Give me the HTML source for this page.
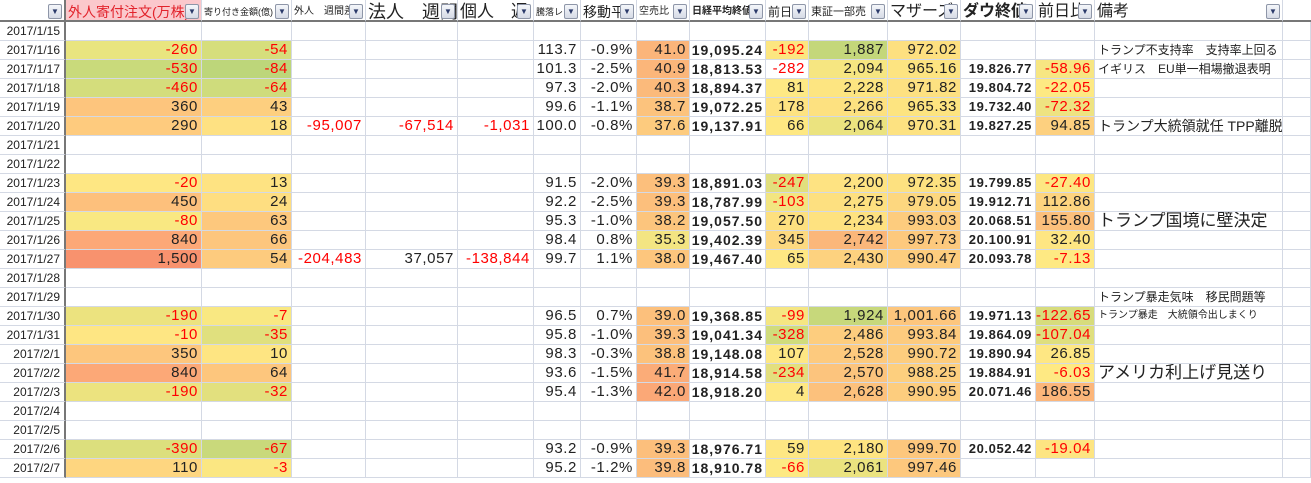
<!DOCTYPE html>
<html><head><meta charset="utf-8"><style>
body{margin:0;width:1311px;height:483px;overflow:hidden;background:#fff;font-family:"Liberation Sans","Noto Sans CJK JP",sans-serif}
.g{display:grid;grid-template-columns:66px 136px 90px 74px 92px 76px 47px 56px 53px 76px 43px 79px 73px 75px 59px 188px 28px;grid-template-rows:22px repeat(24,19px);position:absolute;left:0;top:0}
.g>div{box-sizing:border-box;border-right:1px solid #d4d9e4;border-bottom:1px solid #d4d9e4;font-size:15px;line-height:18px;text-align:right;padding-right:3px;white-space:nowrap;overflow:hidden;color:#222;letter-spacing:0.6px}
.g>.d{font-size:12px;text-align:right;padding-right:4px;border-right:2px solid #777;color:#222;letter-spacing:0}
.g>.h{font-size:13px;text-align:left;padding-left:2px;line-height:22px;position:relative;border-bottom:2px solid #777;background:#fff;padding-top:1px;letter-spacing:0}
.h b{position:absolute;right:2px;top:4px;width:14px;height:15px;box-sizing:border-box;border:1px solid #8e96a8;border-radius:2px;background:linear-gradient(#f4f6fa,#d6dbe6);font-size:8px;line-height:13px;text-align:center;color:#2b3a6a;font-weight:normal}
.r{color:#f00!important}
.g>.k{font-weight:bold;font-size:14px;letter-spacing:1px;padding-right:2px}
.g>.w{font-weight:bold;font-size:13px;letter-spacing:0.6px}
.g>.t{text-align:left;padding-left:3px;font-size:12px;letter-spacing:0}
.g>.L{text-align:left;padding-left:3px;font-size:17px;letter-spacing:0}
</style></head><body>
<div style="position:absolute;left:0;top:0;width:1311px;height:3px;background:#eee"></div>
<div class="g">
<div class="h d" style="border-bottom:2px solid #777"><b style="top:4px">▼</b></div>
<div class="h" style="background:#fbc8cc;color:#e2222b;font-size:14px">外人寄付注文(万株)<b>▼</b></div>
<div class="h" style="font-size:9px">寄り付き金額(億)<b>▼</b></div>
<div class="h" style="font-size:10px">外人　週間差<b>▼</b></div>
<div class="h" style="font-size:18px">法人　週間<b>▼</b></div>
<div class="h" style="font-size:17px">個人　週<b>▼</b></div>
<div class="h" style="font-size:9px">騰落レシ<b>▼</b></div>
<div class="h" style="font-size:14px">移動平<b>▼</b></div>
<div class="h" style="font-size:10px">空売比<b>▼</b></div>
<div class="h" style="font-size:10px;font-weight:bold">日経平均終値<b>▼</b></div>
<div class="h" style="font-size:12px">前日<b>▼</b></div>
<div class="h" style="font-size:11px">東証一部売<b>▼</b></div>
<div class="h" style="font-size:16px">マザーズ<b>▼</b></div>
<div class="h" style="font-size:16px;font-weight:bold">ダウ終値<b>▼</b></div>
<div class="h" style="font-size:16px">前日比<b>▼</b></div>
<div class="h" style="font-size:16px">備考<b>▼</b></div>
<div class="h" style="border-right:none"></div>

<div class="d">2017/1/15</div><div></div><div></div><div></div><div></div><div></div><div></div><div></div><div></div><div></div><div></div><div></div><div></div><div></div><div></div><div></div><div></div>

<div class="d">2017/1/16</div><div class="r" style="background:#e9e57f">-260</div><div class="r" style="background:#d6de7c">-54</div><div></div><div></div><div></div><div>113.7</div><div>-0.9%</div><div style="background:#fbb57a">41.0</div><div class="k">19,095.24</div><div class="r" style="background:#fce680">-192</div><div style="background:#c4d77a">1,887</div><div style="background:#fde080">972.02</div><div></div><div></div><div class="t">トランプ不支持率　支持率上回る</div><div></div>

<div class="d">2017/1/17</div><div class="r" style="background:#c9da7b">-530</div><div class="r" style="background:#bdd67a">-84</div><div></div><div></div><div></div><div>101.3</div><div>-2.5%</div><div style="background:#fbb67a">40.9</div><div class="k">18,813.53</div><div class="r">-282</div><div style="background:#f6e681">2,094</div><div style="background:#fde481">965.16</div><div class="w">19.826.77</div><div class="r" style="background:#f7e682">-58.96</div><div class="t">イギリス　EU単一相場撤退表明</div><div></div>

<div class="d">2017/1/18</div><div class="r" style="background:#d4dd7c">-460</div><div class="r" style="background:#cfdc7c">-64</div><div></div><div></div><div></div><div>97.3</div><div>-2.0%</div><div style="background:#fbba7b">40.3</div><div class="k">18,894.37</div><div style="background:#fee984">81</div><div style="background:#fde581">2,228</div><div style="background:#fde181">971.82</div><div class="w">19.804.72</div><div class="r" style="background:#fde983">-22.05</div><div></div><div></div>

<div class="d">2017/1/19</div><div style="background:#fdc57d">360</div><div style="background:#fdcf7f">43</div><div></div><div></div><div></div><div>99.6</div><div>-1.1%</div><div style="background:#fcc37d">38.7</div><div class="k">19,072.25</div><div style="background:#fee382">178</div><div style="background:#fde180">2,266</div><div style="background:#fde480">965.33</div><div class="w">19.732.40</div><div class="r" style="background:#eee381">-72.32</div><div></div><div></div>

<div class="d">2017/1/20</div><div style="background:#fecb7e">290</div><div style="background:#fee182">18</div><div class="r">-95,007</div><div class="r">-67,514</div><div class="r">-1,031</div><div>100.0</div><div>-0.8%</div><div style="background:#fdcb7e">37.6</div><div class="k">19,137.91</div><div style="background:#fee882">66</div><div style="background:#ebe37f">2,064</div><div style="background:#fde281">970.31</div><div class="w">19.827.25</div><div style="background:#fdd07f">94.85</div><div class="L" style="font-size:14px">トランプ大統領就任 TPP離脱</div><div></div>

<div class="d">2017/1/21</div><div></div><div></div><div></div><div></div><div></div><div></div><div></div><div></div><div></div><div></div><div></div><div></div><div></div><div></div><div></div><div></div>
<div class="d">2017/1/22</div><div></div><div></div><div></div><div></div><div></div><div></div><div></div><div></div><div></div><div></div><div></div><div></div><div></div><div></div><div></div><div></div>

<div class="d">2017/1/23</div><div class="r" style="background:#fee783">-20</div><div style="background:#fee382">13</div><div></div><div></div><div></div><div>91.5</div><div>-2.0%</div><div style="background:#fcbf7c">39.3</div><div class="k">18,891.03</div><div class="r" style="background:#e1df7d">-247</div><div style="background:#fee382">2,200</div><div style="background:#fde180">972.35</div><div class="w">19.799.85</div><div class="r" style="background:#fde782">-27.40</div><div></div><div></div>

<div class="d">2017/1/24</div><div style="background:#fdc07c">450</div><div style="background:#fede81">24</div><div></div><div></div><div></div><div>92.2</div><div>-2.5%</div><div style="background:#fcbf7c">39.3</div><div class="k">18,787.99</div><div class="r" style="background:#f2e581">-103</div><div style="background:#fde080">2,275</div><div style="background:#fdd77f">979.05</div><div class="w">19.912.71</div><div style="background:#fdd47f">112.86</div><div></div><div></div>

<div class="d">2017/1/25</div><div class="r" style="background:#f9e882">-80</div><div style="background:#fdc87d">63</div><div></div><div></div><div></div><div>95.3</div><div>-1.0%</div><div style="background:#fcc57d">38.2</div><div class="k">19,057.50</div><div style="background:#fde07f">270</div><div style="background:#fee280">2,234</div><div style="background:#fdcc7e">993.03</div><div class="w">20.068.51</div><div style="background:#fcc07c">155.80</div><div class="L">トランプ国境に壁決定</div><div></div>

<div class="d">2017/1/26</div><div style="background:#fca877">840</div><div style="background:#fdc67d">66</div><div></div><div></div><div></div><div>98.4</div><div>0.8%</div><div style="background:#f3e582">35.3</div><div class="k">19,402.39</div><div style="background:#fdd980">345</div><div style="background:#fbb77a">2,742</div><div style="background:#fdc97d">997.73</div><div class="w">20.100.91</div><div style="background:#fee683">32.40</div><div></div><div></div>

<div class="d">2017/1/27</div><div style="background:#f8926e">1,500</div><div style="background:#fdcb7e">54</div><div class="r">-204,483</div><div>37,057</div><div class="r">-138,844</div><div>99.7</div><div>1.1%</div><div style="background:#fdc67d">38.0</div><div class="k">19,467.40</div><div style="background:#fee783">65</div><div style="background:#fdd27f">2,430</div><div style="background:#fdcd7e">990.47</div><div class="w">20.093.78</div><div class="r" style="background:#fee983">-7.13</div><div></div><div></div>

<div class="d">2017/1/28</div><div></div><div></div><div></div><div></div><div></div><div></div><div></div><div></div><div></div><div></div><div></div><div></div><div></div><div></div><div></div><div></div>
<div class="d">2017/1/29</div><div></div><div></div><div></div><div></div><div></div><div></div><div></div><div></div><div></div><div></div><div></div><div></div><div></div><div></div><div class="t">トランプ暴走気味　移民問題等</div><div></div>

<div class="d">2017/1/30</div><div class="r" style="background:#ece37f">-190</div><div class="r" style="background:#f9e882">-7</div><div></div><div></div><div></div><div>96.5</div><div>0.7%</div><div style="background:#fcc07c">39.0</div><div class="k">19,368.85</div><div class="r" style="background:#f5e682">-99</div><div style="background:#c7d87b">1,924</div><div style="background:#fdc67d">1,001.66</div><div class="w">19.971.13</div><div class="r" style="background:#d7dc7c">-122.65</div><div class="t" style="font-size:10px">トランプ暴走　大統領令出しまくり</div><div></div>

<div class="d">2017/1/31</div><div class="r" style="background:#fee683">-10</div><div class="r" style="background:#e0e07e">-35</div><div></div><div></div><div></div><div>95.8</div><div>-1.0%</div><div style="background:#fcbf7c">39.3</div><div class="k">19,041.34</div><div class="r" style="background:#d0dc7c">-328</div><div style="background:#fdcd7e">2,486</div><div style="background:#fdcb7e">993.84</div><div class="w">19.864.09</div><div class="r" style="background:#dfdf7e">-107.04</div><div></div><div></div>

<div class="d">2017/2/1</div><div style="background:#fdc67d">350</div><div style="background:#fee582">10</div><div></div><div></div><div></div><div>98.3</div><div>-0.3%</div><div style="background:#fcc27c">38.8</div><div class="k">19,148.08</div><div style="background:#fee783">107</div><div style="background:#fdca7e">2,528</div><div style="background:#fdcd7e">990.72</div><div class="w">19.890.94</div><div style="background:#fee783">26.85</div><div></div><div></div>

<div class="d">2017/2/2</div><div style="background:#fca877">840</div><div style="background:#fdc67d">64</div><div></div><div></div><div></div><div>93.6</div><div>-1.5%</div><div style="background:#fbac78">41.7</div><div class="k">18,914.58</div><div class="r" style="background:#e3df7e">-234</div><div style="background:#fcc47d">2,570</div><div style="background:#fdcf7e">988.25</div><div class="w">19.884.91</div><div class="r" style="background:#fee983">-6.03</div><div class="L">アメリカ利上げ見送り</div><div></div>

<div class="d">2017/2/3</div><div class="r" style="background:#ece37f">-190</div><div class="r" style="background:#e2e07e">-32</div><div></div><div></div><div></div><div>95.4</div><div>-1.3%</div><div style="background:#fba877">42.0</div><div class="k">18,918.20</div><div style="background:#fee883">4</div><div style="background:#fcc17c">2,628</div><div style="background:#fdcd7e">990.95</div><div class="w">20.071.46</div><div style="background:#fcb67a">186.55</div><div></div><div></div>

<div class="d">2017/2/4</div><div></div><div></div><div></div><div></div><div></div><div></div><div></div><div></div><div></div><div></div><div></div><div></div><div></div><div></div><div></div><div></div>
<div class="d">2017/2/5</div><div></div><div></div><div></div><div></div><div></div><div></div><div></div><div></div><div></div><div></div><div></div><div></div><div></div><div></div><div></div><div></div>

<div class="d">2017/2/6</div><div class="r" style="background:#dcdf7d">-390</div><div class="r" style="background:#c9d97b">-67</div><div></div><div></div><div></div><div>93.2</div><div>-0.9%</div><div style="background:#fcbf7c">39.3</div><div class="k">18,976.71</div><div style="background:#fee783">59</div><div style="background:#fee481">2,180</div><div style="background:#fdc77d">999.70</div><div class="w">20.052.42</div><div class="r" style="background:#fde582">-19.04</div><div></div><div></div>

<div class="d">2017/2/7</div><div style="background:#fed680">110</div><div class="r" style="background:#fbe782">-3</div><div></div><div></div><div></div><div>95.2</div><div>-1.2%</div><div style="background:#fcbd7c">39.8</div><div class="k">18,910.78</div><div class="r" style="background:#fde983">-66</div><div style="background:#ebe37f">2,061</div><div style="background:#fdc87d">997.46</div><div></div><div></div><div></div><div></div>
</div>
</body></html>
